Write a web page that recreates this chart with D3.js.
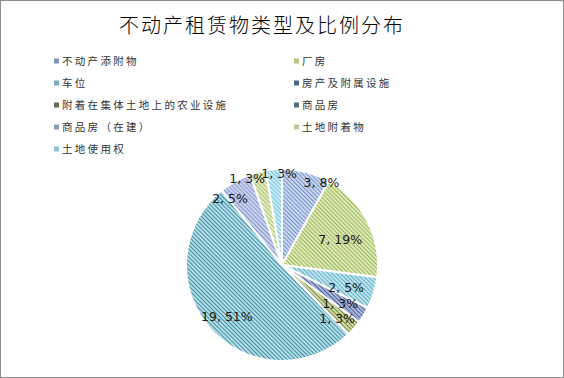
<!DOCTYPE html>
<html>
<head>
<meta charset="utf-8">
<script src="https://cdn.jsdelivr.net/npm/d3@7"></script>
<style>
  html, body { margin: 0; padding: 0; background: #fff; }
  svg { display: block; }
</style>
</head>
<body>
<div id="graphicContainer"></div>
<script>

const title = "不动产租赁物类型及比例分布"

const categories = ["不动产添附物", "厂房", "车位", "房产及附属设施", "附着在集体土地上的农业设施", "商品房", "商品房（在建）", "土地附着物", "土地使用权"]

const counts = [3, 7, 2, 1, 1, 19, 2, 1, 1]

const fills = ["#cbd8f1", "#dfeab7", "#c0e5ef", "#aebadf", "#d2dea9", "#b3dfea", "#ccd4ef", "#e4edc4", "#cbecf6"]

const stripes = ["#7590c8", "#9ab65e", "#5eaec5", "#4a5f92", "#75853f", "#468b9c", "#8797cb", "#afc474", "#78c5d9"]

const swatches = ["#7f96b8", "#b9c683", "#79a9bd", "#4e6383", "#676a4e", "#4e7080", "#8c9ab5", "#c0c8a0", "#8ec4d3"]

// label placement (excel best-fit): angle shift in degrees, radius as share of pie radius
const labelShift = [11, 3.5, 2.8, 2.2, 2.8, -2, -8.8, -7.4, 3]
const labelRadius = [0.95, 0.66, 0.71, 0.73, 0.8, 0.79, 0.88, 0.97, 0.95]

const width = 564, height = 378

const svg = d3.select("#graphicContainer")
  .append("svg")
  .attr("width", width)
  .attr("height", height)

svg.append("rect")
  .attr("x", 0.5).attr("y", 0.5)
  .attr("width", width - 1).attr("height", height - 1)
  .attr("fill", "#fff")
  .attr("stroke", "#8c8c8c")

svg.append("text")
  .attr("x", 262)
  .attr("y", 33)
  .attr("text-anchor", "middle")
  .style("font-family", "'Noto Sans CJK SC', sans-serif")
  .style("font-size", "20px")
  .style("font-weight", 300)
  .style("letter-spacing", "2px")
  .attr("fill", "#000")
  .text(title)

const defs = svg.append("defs")

categories.forEach((c, i) => {
  const p = defs.append("pattern")
    .attr("id", `hatch_${i}`)
    .attr("patternUnits", "userSpaceOnUse")
    .attr("width", 2.9)
    .attr("height", 2.9)
    .attr("patternTransform", "rotate(-45)")
  p.append("rect").attr("width", 2.9).attr("height", 2.9).attr("fill", fills[i])
  p.append("rect").attr("width", 1).attr("height", 2.9).attr("fill", stripes[i])
})

// legend, two columns
const legend = svg.append("g")
const colX = [54, 294]
const rowY = d3.scaleLinear().domain([0, 4]).range([61, 149])

categories.forEach((c, i) => {
  const col = i % 2
  const row = Math.floor(i / 2)
  const g = legend.append("g")
    .attr("transform", `translate(${colX[col]},${rowY(row)})`)
  g.append("rect")
    .attr("x", 0).attr("y", -2.5)
    .attr("width", 5).attr("height", 5)
    .attr("fill", swatches[i])
  g.append("text")
    .attr("x", 8)
    .attr("y", 4)
    .style("font-family", "'Noto Sans CJK SC', sans-serif")
    .style("font-size", "10.5px")
    .style("letter-spacing", "2.3px")
    .attr("fill", "#333")
    .text(c)
})

// pie
const cx = 282, cy = 265, radius = 96
const total = d3.sum(counts)

const pie = d3.pie().sort(null).value(d => d)
const arcs = pie(counts)

const arc = d3.arc().innerRadius(0).outerRadius(radius)

const features = svg.append("g")
  .attr("transform", `translate(${cx},${cy})`)

features.selectAll(".slice")
  .data(arcs)
  .enter()
  .append("path")
  .attr("class", "slice")
  .attr("d", arc)
  .attr("fill", (d, i) => `url(#hatch_${i})`)
  .attr("stroke", "#fff")
  .attr("stroke-width", 2)

features.selectAll(".barText")
  .data(arcs)
  .enter()
  .append("text")
  .attr("class", "barText")
  .attr("transform", (d, i) => {
    const r = radius * labelRadius[i]
    const a = (d.startAngle + d.endAngle) / 2 + labelShift[i] * Math.PI / 180
    return `translate(${Math.sin(a) * r},${-Math.cos(a) * r + 4.3})`
  })
  .attr("text-anchor", "middle")
  .style("font-family", "'DejaVu Sans', sans-serif")
  .style("font-size", "12.5px")
  .attr("fill", "#1a1a1a")
  .text(d => `${d.value}, ${Math.round(d.value / total * 100)}%`)

</script>
</body>
</html>
